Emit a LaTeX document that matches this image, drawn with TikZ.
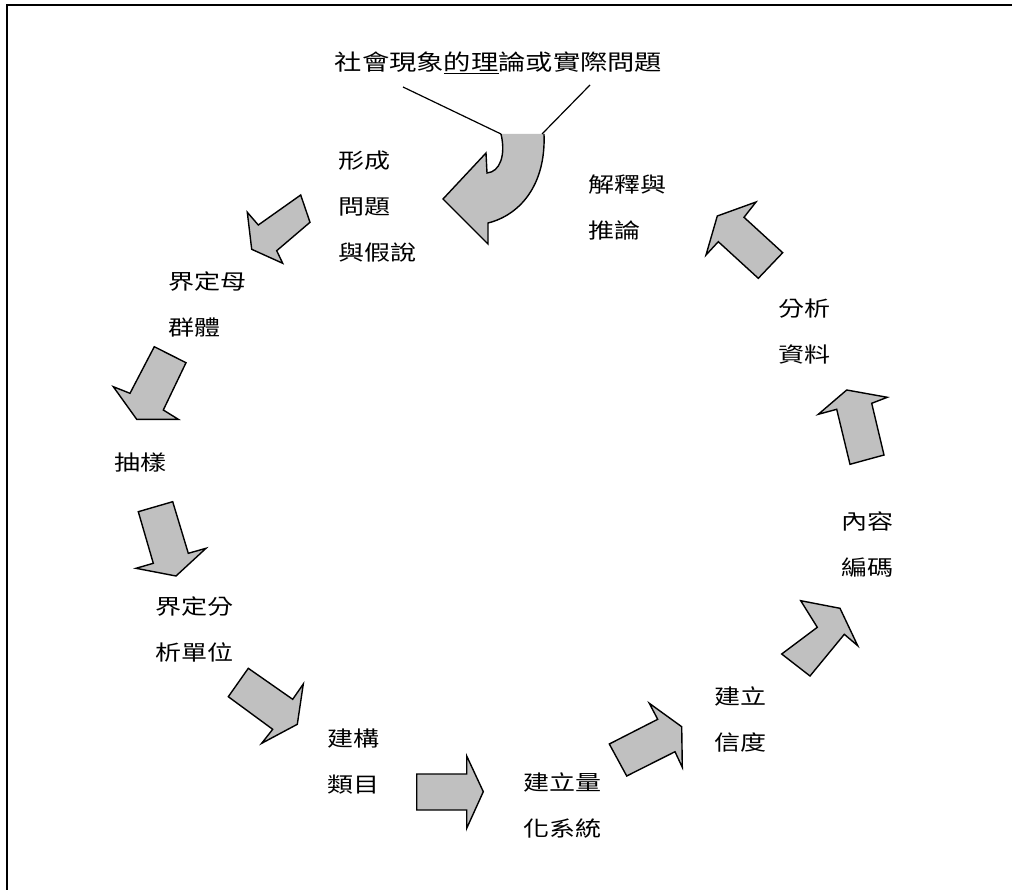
\documentclass[tikz,border=0pt]{standalone}
\usepackage{fontspec}
\newfontfamily\cjk[FakeStretch=1.24]{Noto Sans CJK TC}
\definecolor{arrowgray}{HTML}{C0C0C0}
\begin{document}
\begin{tikzpicture}[x=1pt,y=-1pt,
  flow/.style={fill=arrowgray,draw=black,line width=1.4pt,line join=miter},
  lbl/.style={anchor=west,align=left,inner sep=0pt,font=\cjk\fontsize{21}{46}\selectfont},
  lead/.style={draw=black,line width=1.2pt},
]
\useasboundingbox (0,0) rectangle (1012,890);

% page frame (left and top rules)
\draw[line width=2.2pt] (7,890) -- (7,5) -- (1012,5);

% starting question
\node[inner sep=0pt,font=\cjk\fontsize{22}{22}\selectfont] (q) at (498.5,63)
  {社會現象\underline{的理}論或實際問題};

% curved entry arrow
\fill[arrowgray] (501,134) .. controls (506,155) and (500,172) .. (487,173)
  -- (486,153) -- (443,199) -- (488,244) -- (488,223)
  .. controls (520,215) and (546,185) .. (544,134) -- cycle;
\draw[line width=1.4pt,line join=miter] (501,134) .. controls (506,155) and (500,172) .. (487,173)
  -- (486,153) -- (443,199) -- (488,244) -- (488,223)
  .. controls (520,215) and (546,185) .. (544,134);

% leader lines from the question to the arrow
\coordinate (t1) at (403,87);
\coordinate (t2) at (590,85);
\coordinate (c1) at (501,134);
\coordinate (c2) at (542,134);
\draw[lead] (t1) -- (c1);
\draw[lead] (t2) -- (c2);

% step labels
\node[lbl] (s1) at (338,207) {形成\\問題\\與假說};
\node[lbl] (s2) at (168,304) {界定母\\群體};
\node[lbl] (s3) at (114,463) {抽樣};
\node[lbl] (s4) at (155,629) {界定分\\析單位};
\node[lbl] (s5) at (327,762) {建構\\類目};
\node[lbl] (s6) at (523,805) {建立量\\化系統};
\node[lbl] (s7) at (714,719) {建立\\信度};
\node[lbl] (s8) at (841,544) {內容\\編碼};
\node[lbl] (s9) at (778,332) {分析\\資料};
\node[lbl] (s10) at (588,208) {解釋與\\推論};

% block arrows between the steps
\draw[flow] (300.7,195) -- (310,222.3) -- (276.7,250.7) -- (282.7,263.3)
  -- (251.7,249.3) -- (247.3,212.3) -- (258.3,225) -- cycle;
\draw[flow] (154.3,346.7) -- (186,362.7) -- (163.3,410) -- (178.3,419.3)
  -- (136.7,419.3) -- (113.3,386.7) -- (130,393.3) -- cycle;
\draw[flow] (138.3,511.7) -- (172.7,501.7) -- (188.3,553.3) -- (206,548.3)
  -- (176,576) -- (136,568.3) -- (153.3,563.3) -- cycle;
\draw[flow] (248.3,668.3) -- (292.7,699.3) -- (303.3,684) -- (297.3,724.3)
  -- (261.7,743.3) -- (272.7,729.3) -- (228.3,696.7) -- cycle;
\draw[flow] (416.7,774) -- (466.7,774) -- (466.7,756) -- (483.3,791.7)
  -- (466.7,828.3) -- (466.7,810) -- (416.7,810) -- cycle;
\draw[flow] (609.3,744) -- (657.7,719.3) -- (649.3,703.3) -- (681.7,726.7)
  -- (682.3,767.3) -- (675,751.7) -- (626.7,776) -- cycle;
\draw[flow] (781.7,654) -- (817.3,627.3) -- (800.7,600.7) -- (840,608.3)
  -- (857.7,645.7) -- (844.3,634.3) -- (810,676) -- cycle;
\draw[flow] (850,464.3) -- (836.7,409.3) -- (818.3,414.3) -- (846.7,390)
  -- (887.3,397.3) -- (871.7,403.3) -- (884,455) -- cycle;
\draw[flow] (782.7,252.7) -- (744,217.3) -- (756,202) -- (717.3,216)
  -- (706,255) -- (718.3,241.7) -- (758.3,278.3) -- cycle;
\end{tikzpicture}
\end{document}
